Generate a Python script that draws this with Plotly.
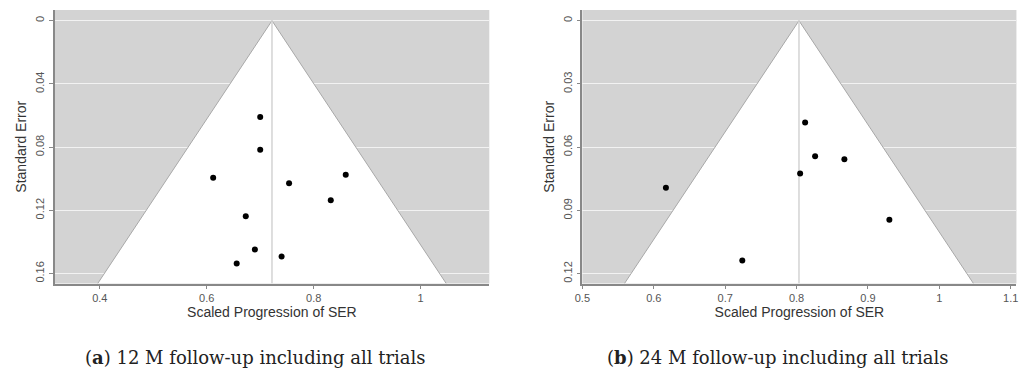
import plotly.graph_objects as go

# ---- data ----
a_x = [0.700, 0.700, 0.612, 0.754, 0.860, 0.832, 0.673, 0.690, 0.740, 0.656]
a_se = [0.0610, 0.0817, 0.0994, 0.1028, 0.0975, 0.1136, 0.1237, 0.1448, 0.1492, 0.1537]
a_est = 0.722
a_se_bottom = 0.1663
a_yticks = [0, 0.04, 0.08, 0.12, 0.16]
a_xticks = [0.4, 0.6, 0.8, 1.0]

b_x = [0.812, 0.826, 0.867, 0.805, 0.617, 0.930, 0.724]
b_se = [0.0483, 0.0643, 0.0657, 0.0725, 0.0793, 0.0945, 0.1138]
b_est = 0.8034
b_se_bottom = 0.1247
b_yticks = [0, 0.03, 0.06, 0.09, 0.12]
b_xticks = [0.5, 0.6, 0.7, 0.8, 0.9, 1.0, 1.1]

caption_a = "(<b>a</b>) 12 M follow-up including all trials"
caption_b = "(<b>b</b>) 24 M follow-up including all trials"
x_title = "Scaled Progression of SER"
y_title = "Standard Error"

Z = 1.96

fig = go.Figure()

def add_panel(xs, ses, est, se_bot, xa, ya):
    lo = est - Z * se_bot
    hi = est + Z * se_bot
    fig.add_trace(go.Scatter(x=[lo, est, hi, lo], y=[se_bot, 0, se_bot, se_bot],
                             mode="lines", fill="toself", fillcolor="white",
                             line=dict(width=0), xaxis=xa, yaxis=ya,
                             hoverinfo="skip", showlegend=False))
    fig.add_trace(go.Scatter(x=[lo, est, hi], y=[se_bot, 0, se_bot],
                             mode="lines", line=dict(color="#a8a8a8", width=1),
                             xaxis=xa, yaxis=ya, hoverinfo="skip", showlegend=False))
    fig.add_trace(go.Scatter(x=[est, est], y=[0, se_bot], mode="lines",
                             line=dict(color="#d3d3d3", width=1.5),
                             xaxis=xa, yaxis=ya, hoverinfo="skip", showlegend=False))
    fig.add_trace(go.Scatter(x=xs, y=ses, mode="markers",
                             marker=dict(color="black", size=6),
                             xaxis=xa, yaxis=ya, showlegend=False))

add_panel(a_x, a_se, a_est, a_se_bottom, "x", "y")
add_panel(b_x, b_se, b_est, b_se_bottom, "x2", "y2")

tickfont = dict(family="Liberation Sans, Arial, sans-serif", size=11, color="#555")
titlefont = dict(family="Liberation Sans, Arial, sans-serif", size=14, color="#333")

common_x = dict(showgrid=False, zeroline=False, showline=True, linecolor="#888",
                linewidth=1.5, ticks="outside", ticklen=4, tickcolor="#888",
                tickfont=tickfont, title=dict(text=x_title, font=titlefont, standoff=1))
common_y = dict(showgrid=True, gridcolor="#f2f2f2", gridwidth=1, zeroline=False,
                showline=True, linecolor="#888", linewidth=1.5, ticks="outside",
                ticklen=4, tickcolor="#888", tickfont=tickfont, tickangle=-90,
                title=dict(text=y_title, font=titlefont, standoff=4))

y_dom = [1 - 283.5 / 378, 1 - 10 / 378]

fig.update_layout(
    width=1032, height=378,
    margin=dict(l=0, r=0, t=0, b=0),
    paper_bgcolor="white",
    plot_bgcolor="#d3d3d3",
    xaxis=dict(domain=[47 / 1032, 486 / 1032], range=[0.3153, 1.1285],
               tickvals=a_xticks, ticktext=["0.4", "0.6", "0.8", "1"], anchor="y", **common_x),
    yaxis=dict(domain=y_dom, range=[a_se_bottom, -0.00675], tickvals=a_yticks,
               ticktext=["0", "0.04", "0.08", "0.12", "0.16"], anchor="x", **common_y),
    xaxis2=dict(domain=[580 / 1032, 1018.3 / 1032], range=[0.5, 1.108],
                tickvals=b_xticks, ticktext=["0.5", "0.6", "0.7", "0.8", "0.9", "1", "1.1"],
                anchor="y2", **common_x),
    yaxis2=dict(domain=y_dom, range=[b_se_bottom, -0.00507], tickvals=b_yticks,
                ticktext=["0", "0.03", "0.06", "0.09", "0.12"], anchor="x2", **common_y),
    annotations=[
        dict(text=caption_a, x=250 / 1032, y=1 - 357 / 378, xref="paper", yref="paper",
             showarrow=False, xanchor="center", yanchor="middle",
             font=dict(family="DejaVu Serif, serif", size=18, color="#222")),
        dict(text=caption_b, x=778 / 1032, y=1 - 357 / 378, xref="paper", yref="paper",
             showarrow=False, xanchor="center", yanchor="middle",
             font=dict(family="DejaVu Serif, serif", size=18, color="#222")),
    ],
)

fig.write_html("out.html", config={"displayModeBar": False},
               post_script="document.body.style.margin='0';")
